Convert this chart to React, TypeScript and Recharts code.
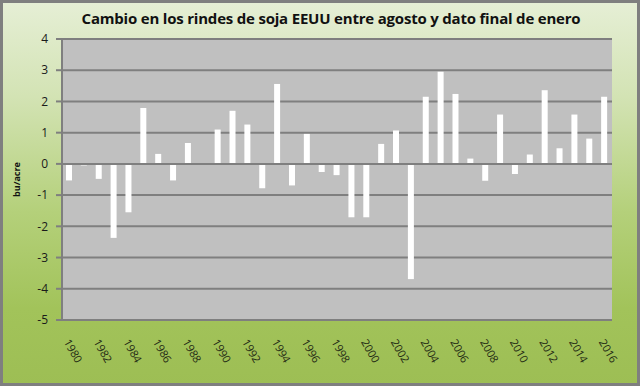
import React from 'react';
import { BarChart, Bar, XAxis, YAxis, CartesianGrid, ReferenceLine } from 'recharts';

const title = 'Cambio en los rindes de soja EEUU entre agosto y dato final de enero';
const yAxisLabel = 'bu/acre';

const years: string[] = [
  '1980', '1981', '1982', '1983', '1984', '1985', '1986', '1987', '1988', '1989',
  '1990', '1991', '1992', '1993', '1994', '1995', '1996', '1997', '1998', '1999',
  '2000', '2001', '2002', '2003', '2004', '2005', '2006', '2007', '2008', '2009',
  '2010', '2011', '2012', '2013', '2014', '2015', '2016',
];

const changes: number[] = [
  -0.53, -0.05, -0.48, -2.37, -1.55, 1.79, 0.32, -0.53, 0.67, 0.0,
  1.1, 1.7, 1.26, -0.78, 2.56, -0.69, 0.96, -0.26, -0.36, -1.71,
  -1.71, 0.64, 1.07, -3.69, 2.15, 2.95, 2.24, 0.17, -0.54, 1.58,
  -0.32, 0.3, 2.36, 0.5, 1.58, 0.81, 2.15,
];

const yTicks: number[] = [-5, -4, -3, -2, -1, 0, 1, 2, 3, 4];

const data = years.map((y, i) => ({ year: y, value: changes[i] }));

const FONT = '"Open Sans", "Noto Sans", sans-serif';

const XTick = (props: any) => {
  const { x, y, payload } = props;
  const tx = x - 6;
  const ty = y + 14;
  return (
    <text
      x={tx}
      y={ty}
      transform={`rotate(60, ${tx}, ${ty})`}
      textAnchor="start"
      fontSize={11}
      fontFamily={FONT}
      fill="#1f2a14"
    >
      {payload.value}
    </text>
  );
};

export default function App() {
  return (
    <div
      style={{
        position: 'fixed',
        left: 0,
        top: 0,
        width: 640,
        height: 386,
        background:
          'linear-gradient(180deg, #e6efd6 0%, #d3e3b4 25%, #b4d07a 55%, #a2c35a 80%, #9dbe54 100%)',
        boxShadow: 'inset 0 0 0 3px #7f7f7f',
      }}
    >
      <div
        style={{
          position: 'absolute',
          left: 0,
          top: 8,
          width: 662,
          textAlign: 'center',
          fontFamily: FONT,
          fontWeight: 700,
          fontSize: 15,
          letterSpacing: -0.2,
          color: '#111',
        }}
      >
        {title}
      </div>
      <div style={{ position: 'absolute', left: 0, top: 0 }}>
        <BarChart
          width={640}
          height={386}
          data={data}
          margin={{ top: 39, right: 28, bottom: 16, left: 0 }}
          barSize={6}
        >
          <CartesianGrid
            vertical={false}
            horizontal={true}
            stroke="#7f7f7f"
            strokeWidth={2}
            fill="#c0c0c0"
            fillOpacity={1}
          />
          <XAxis
            dataKey="year"
            interval={1}
            axisLine={false}
            tickLine={false}
            height={50}
            tick={<XTick />}
          />
          <YAxis
            domain={[-5, 4]}
            ticks={yTicks}
            width={62}
            axisLine={{ stroke: '#7f7f7f', strokeWidth: 2 }}
            tickLine={{ stroke: '#7f7f7f', strokeWidth: 2 }}
            tickSize={6}
            tickMargin={8}
            tick={{ fontSize: 12, fontFamily: FONT, fill: '#1a1a1a' }}
            label={{
              value: yAxisLabel,
              angle: -90,
              position: 'insideLeft',
              offset: 17,
              style: { fontSize: 9, fontWeight: 700, fontFamily: FONT, fill: '#111', textAnchor: 'middle' },
            }}
          />
          <ReferenceLine y={0} stroke="#7f7f7f" strokeWidth={2} />
          <Bar dataKey="value" fill="#ffffff" isAnimationActive={false} />
        </BarChart>
      </div>
    </div>
  );
}
